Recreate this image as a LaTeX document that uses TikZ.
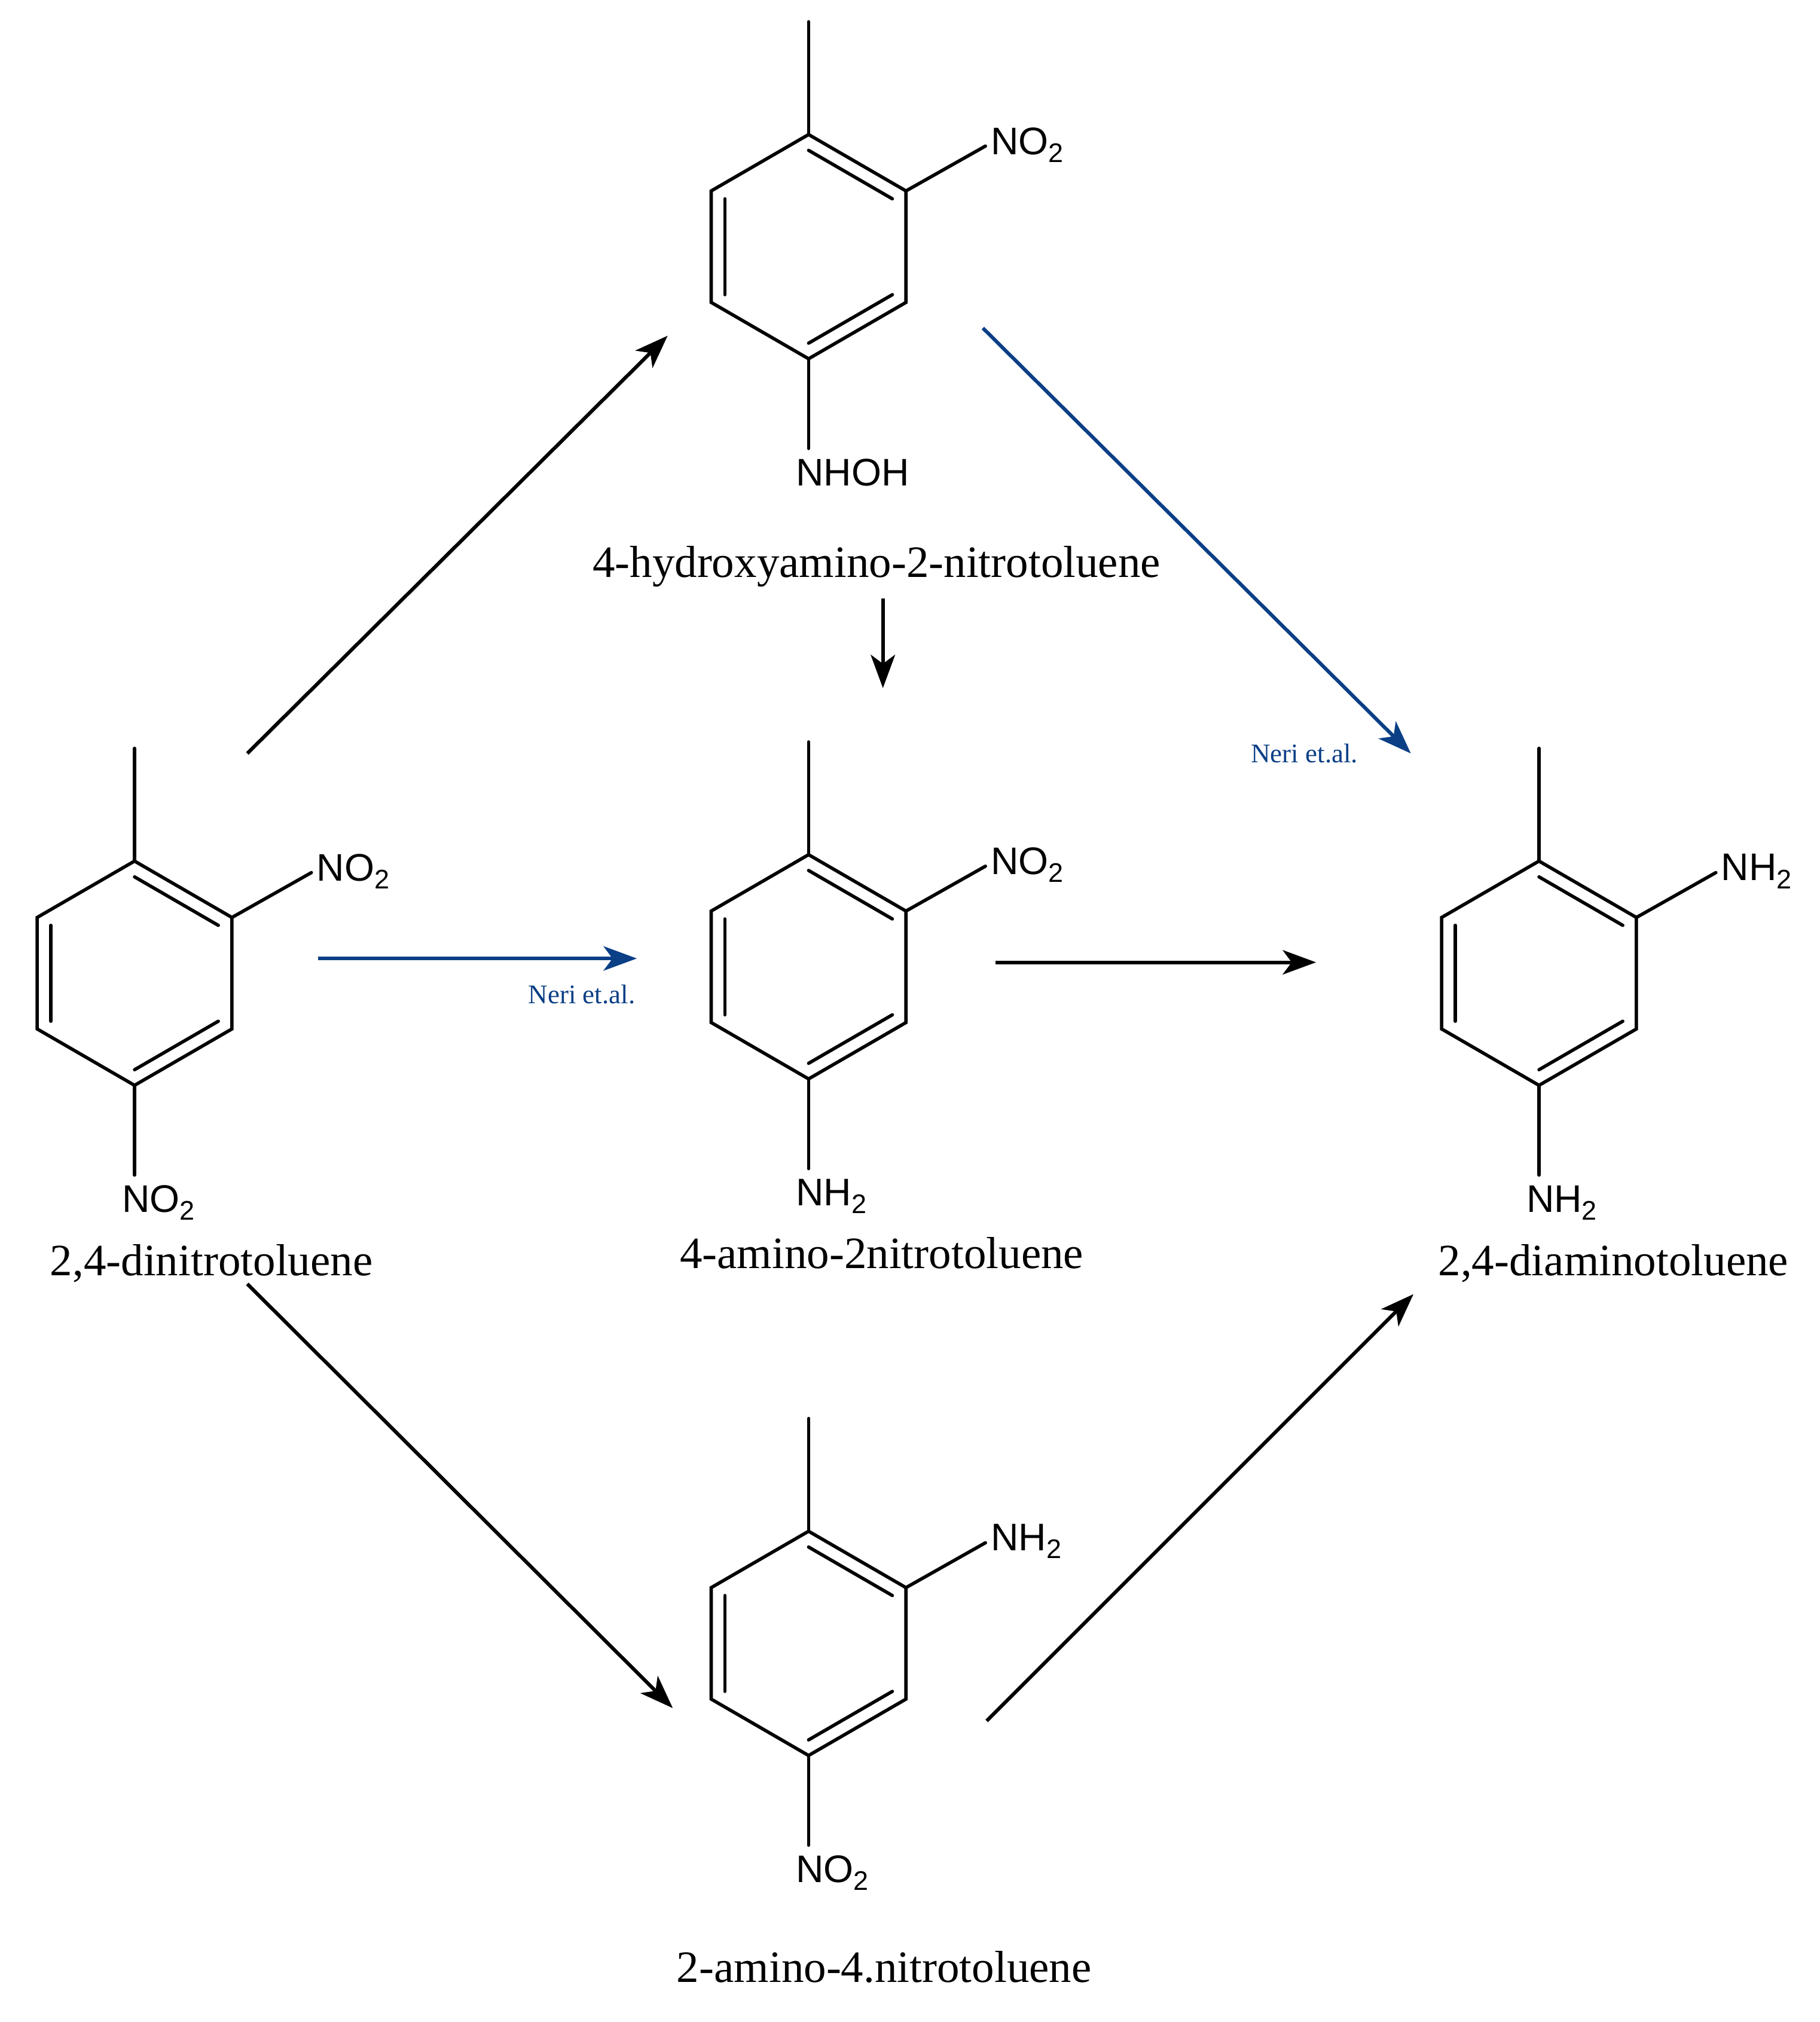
\documentclass[tikz,border=0pt]{standalone}
\usepackage{fontspec}
\setmainfont{Liberation Serif}
\newfontfamily\chemf{Liberation Sans}
\usetikzlibrary{calc,arrows.meta}
\definecolor{nblue}{HTML}{0B3F86}
\tikzset{
 bond/.style={line width=2.6pt,line cap=round},
 rxn/.style={line width=2.8pt,-{Stealth[length=26pt,width=19pt,inset=7pt]}},
 rxnb/.style={rxn,nblue},
 chem/.style={font=\chemf\fontsize{30}{34}\selectfont,inner sep=0pt},
 mname/.style={font=\fontsize{35}{40}\selectfont,inner sep=0pt},
 neri/.style={font=\fontsize{21}{24}\selectfont,text=nblue,inner sep=0pt}
}
% #1 name, #2 x, #3 y (top ring vertex), #4 right substituent, #5 bottom substituent
\newcommand{\mymol}[5]{
 \coordinate (#1t) at (#2,#3);
 \coordinate (#1ur) at ($(#1t)+(76,44)$);
 \coordinate (#1lr) at ($(#1t)+(76,131)$);
 \coordinate (#1b) at ($(#1t)+(0,175)$);
 \coordinate (#1ll) at ($(#1t)+(-76,131)$);
 \coordinate (#1ul) at ($(#1t)+(-76,44)$);
 \coordinate (#1c) at ($(#1t)+(0,88)$);
 \coordinate (#1m) at ($(#1t)+(0,-88)$);
 \draw[bond] (#1t)--(#1ur)--(#1lr)--(#1b)--(#1ll)--(#1ul)--cycle;
 \draw[bond] (#1t)--(#1m);
 \draw[bond] ($(#1t)!0.14!(#1c)$)--($(#1ur)!0.14!(#1c)$);
 \draw[bond] ($(#1ul)!0.14!(#1c)$)--($(#1ll)!0.14!(#1c)$);
 \draw[bond] ($(#1lr)!0.14!(#1c)$)--($(#1b)!0.14!(#1c)$);
 \node[chem,anchor=west] (#1R) at ($(#1ur)+(66,-36)$) {#4};
 \draw[bond] (#1ur)--($(#1ur)+(62,-35)$);
 \draw[bond] (#1b)--($(#1b)+(0,70)$);
 \node[chem,anchor=north west] (#1B) at ($(#1b)+(-10,78)$) {#5};
}
\newcommand{\NOt}{NO\textsubscript{2}}
\newcommand{\NHt}{NH\textsubscript{2}}
\begin{document}
\begin{tikzpicture}[x=1pt,y=-1pt]
\useasboundingbox[fill=white] (0,0) rectangle (1420,1578);
\mymol{A}{105}{672}{\NOt}{\NOt}
\mymol{B}{631}{105}{\NOt}{NHOH}
\mymol{C}{631}{667}{\NOt}{\NHt}
\mymol{D}{1201}{672}{\NHt}{\NHt}
\mymol{E}{631}{1195}{\NHt}{\NOt}
\node[mname] (An) at (165,986) {2,4-dinitrotoluene};
\node[mname] (Bn) at (684,442) {4-hydroxyamino-2-nitrotoluene};
\node[mname] (Cn) at (688,978) {4-amino-2nitrotoluene};
\node[mname] (Dn) at (1259,986) {2,4-diaminotoluene};
\node[mname] (En) at (690,1535) {2-amino-4.nitrotoluene};
\node[neri] (n1) at (1018,588) {Neri et.al.};
\node[neri] (n2) at (454,776) {Neri et.al.};
\coordinate (a1) at (193,588); \coordinate (a2) at (521,262);
\coordinate (b1) at (767,256); \coordinate (b2) at (1101,588);
\coordinate (c1) at (689,467); \coordinate (c2) at (689,537);
\coordinate (d1) at (248,748); \coordinate (d2) at (497,748);
\coordinate (e1) at (777,751); \coordinate (e2) at (1027,751);
\coordinate (f1) at (193,1002); \coordinate (f2) at (525,1333);
\coordinate (g1) at (770,1343); \coordinate (g2) at (1103,1010);
\draw[rxn] (a1)--(a2);
\draw[rxnb] (b1)--(b2);
\draw[rxn] (c1)--(c2);
\draw[rxnb] (d1)--(d2);
\draw[rxn] (e1)--(e2);
\draw[rxn] (f1)--(f2);
\draw[rxn] (g1)--(g2);
\end{tikzpicture}
\end{document}
